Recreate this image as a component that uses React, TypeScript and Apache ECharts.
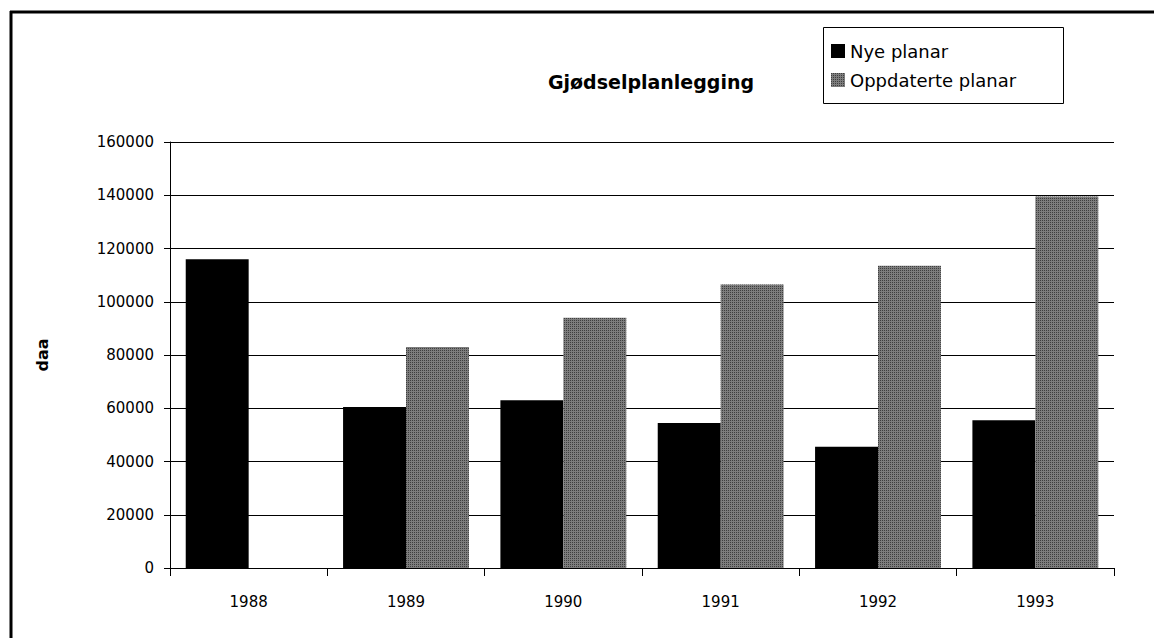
import React, { useEffect, useRef } from "react";
import * as echarts from "echarts";

const years = ["1988", "1989", "1990", "1991", "1992", "1993"];
const nyePlanar = [116000, 60500, 63000, 54500, 45500, 55500];
const oppdatertePlanar = [null, 83000, 94000, 106500, 113500, 139500];
const seriesNames = ["Nye planar", "Oppdaterte planar"];
const titleText = "Gjødselplanlegging";
const yName = "daa";

const FONT = "DejaVu Sans";

export default function App() {
  const ref = useRef<HTMLDivElement>(null);
  useEffect(() => {
    if (!ref.current) return;
    const chart = echarts.init(ref.current, undefined, { renderer: "svg" });
    const greyDecal = {
      symbol: "rect",
      symbolSize: 1,
      dashArrayX: [1, 1],
      dashArrayY: [1, 1],
      color: "rgba(0,0,0,0.5)",
    };
    chart.setOption({
      animation: false,
      backgroundColor: "#ffffff",
      textStyle: { fontFamily: FONT, color: "#000" },
      title: {
        text: titleText,
        left: 646,
        top: 67,
        textAlign: "center",
        textStyle: { fontFamily: FONT, fontWeight: "bold", fontSize: 19, color: "#000" },
      },
      legend: {
        orient: "vertical",
        left: 826,
        top: 37,
        itemWidth: 14,
        itemHeight: 14,
        itemGap: 11,
        icon: "rect",
        textStyle: { fontFamily: FONT, fontSize: 18, color: "#000" },
        data: seriesNames,
      },
      graphic: [
        {
          type: "line",
          shape: { x1: 10, y1: 12, x2: 1154, y2: 12 },
          style: { stroke: "#000", lineWidth: 3 },
        },
        {
          type: "line",
          shape: { x1: 11, y1: 11, x2: 11, y2: 638 },
          style: { stroke: "#000", lineWidth: 3 },
        },
        {
          type: "rect",
          shape: { x: 823.5, y: 27.5, width: 240, height: 76 },
          style: { fill: "none", stroke: "#000", lineWidth: 1 },
          z: 0,
        },
      ],
      grid: { left: 170, right: 40, top: 142, bottom: 70 },
      xAxis: {
        type: "category",
        data: years,
        axisLine: { lineStyle: { color: "#000", width: 1 } },
        axisTick: { show: true, alignWithLabel: false, length: 8, lineStyle: { color: "#000" } },
        axisLabel: { color: "#000", fontFamily: FONT, fontSize: 15, margin: 26 },
      },
      yAxis: {
        type: "value",
        min: 0,
        max: 160000,
        interval: 20000,
        name: yName,
        nameLocation: "middle",
        nameRotate: 90,
        nameGap: 120,
        nameTextStyle: { fontFamily: FONT, fontWeight: "bold", fontSize: 16, color: "#000" },
        axisLine: { show: true, lineStyle: { color: "#000", width: 1 } },
        axisTick: { show: true, length: 6, lineStyle: { color: "#000" } },
        axisLabel: {
          color: "#000",
          fontFamily: FONT,
          fontSize: 15,
          margin: 16,
          formatter: (v: number) => String(v),
        },
        splitLine: { show: true, lineStyle: { color: "#000", width: 1 } },
      },
      series: [
        {
          name: seriesNames[0],
          type: "bar",
          data: nyePlanar,
          itemStyle: { color: "#000" },
          barGap: "0%",
          barCategoryGap: "20%",
        },
        {
          name: seriesNames[1],
          type: "bar",
          data: oppdatertePlanar,
          itemStyle: { color: "#7d7d7d", decal: greyDecal },
          barGap: "0%",
          barCategoryGap: "20%",
        },
      ],
    });
    return () => chart.dispose();
  }, []);
  return (
    <div
      ref={ref}
      style={{ position: "fixed", left: 0, top: 0, width: 1154, height: 638 }}
    />
  );
}
